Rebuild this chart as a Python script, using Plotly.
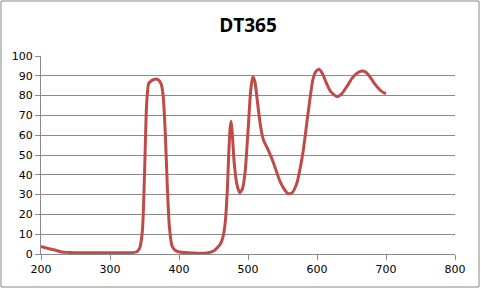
import plotly.graph_objects as go

title = "DT365"
wavelength = [200, 210, 220, 230, 240, 260, 280, 300, 320, 338, 343, 347, 350, 353, 356, 360, 365,
              370, 374, 377, 380, 383, 386, 390, 395, 401, 420, 440, 450, 455, 460, 464, 467,
              470, 472, 474, 475.5, 477, 480, 484, 488, 492, 496, 500, 504, 507, 510, 514, 518,
              522, 530, 537, 546, 552, 558, 564, 571, 576, 580, 587, 594, 598, 603, 608, 614,
              620, 629, 636, 644, 651, 658, 665, 670, 675, 681, 687, 694, 700]
transmission = [3.8, 2.8, 2.0, 1.0, 0.8, 0.6, 0.6, 0.6, 0.6, 1.0, 3.0, 12, 40, 75, 86, 87.5, 88.3,
                88, 86, 80, 62, 35, 14, 4, 1.8, 1.0, 0.5, 0.5, 1.5, 3, 5, 9, 16,
                32, 50, 63, 67, 62, 46, 35, 31, 33, 42, 62, 83, 89.5, 87, 76, 65,
                58, 52, 46, 37, 33, 30.5, 31, 36, 44, 52, 71, 88, 92, 93.3, 91, 86,
                82, 79.5, 81, 85, 88.8, 91.3, 92.4, 92, 90.3, 87.3, 84.5, 82, 81]
x_ticks = [200, 300, 400, 500, 600, 700, 800]
y_ticks = [0, 10, 20, 30, 40, 50, 60, 70, 80, 90, 100]

fig = go.Figure()
fig.add_trace(go.Scatter(
    x=wavelength, y=transmission, mode="lines",
    line=dict(color="#BE4B48", width=3, shape="spline", smoothing=0.6),
    showlegend=False, hoverinfo="skip"))

grid = "#8A8A8A"
fig.update_layout(
    width=481, height=289,
    margin=dict(l=41, r=26, t=56, b=35),
    paper_bgcolor="white", plot_bgcolor="white",
    title=dict(text="<b>" + title + "</b>", x=0.5, xref="paper", xanchor="center",
               y=1 - 25 / 289, yref="container", yanchor="middle",
               font=dict(family="Open Sans, DejaVu Sans, sans-serif", size=19, color="black")),
    font=dict(family="DejaVu Sans, Verdana, sans-serif", size=11, color="black"),
    shapes=[dict(type="rect", xref="paper", yref="paper",
                 x0=(1 - 41) / 414, x1=(479 - 41) / 414,
                 y0=-(287 - 254) / 198, y1=1 + (56 - 1) / 198,
                 line=dict(color="#868686", width=1), layer="below")],
)
fig.update_xaxes(range=[200, 800], tickvals=x_ticks, showgrid=False, zeroline=False,
                 showline=True, linecolor=grid, linewidth=1,
                 ticks="outside", ticklen=5, tickcolor=grid, tickwidth=1)
fig.update_yaxes(range=[0, 100], tickvals=y_ticks, showgrid=True, gridcolor=grid, gridwidth=1,
                 zeroline=False, showline=True, linecolor=grid, linewidth=1,
                 ticks="outside", ticklen=5, tickcolor=grid, tickwidth=1)

fig.write_html("out.html")
